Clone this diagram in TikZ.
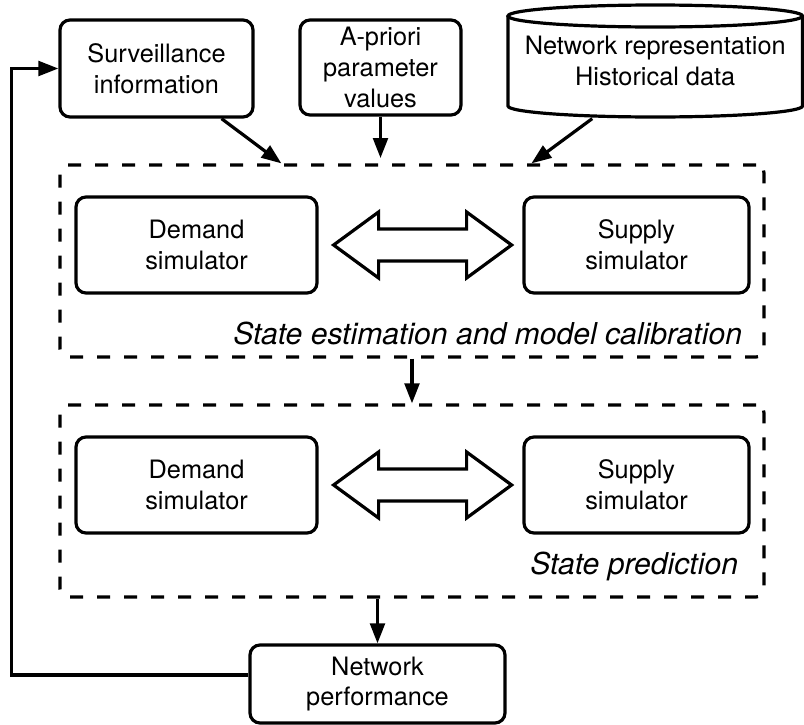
\documentclass[tikz,border=0pt]{standalone}
\usepackage{fontspec}
\setmainfont{TeX Gyre Heros}
\usetikzlibrary{arrows.meta,calc}

\begin{document}
\begin{tikzpicture}[x=0.75pt,y=-0.75pt,line width=2.4pt,
    box/.style={draw,rounded corners=7.5pt,align=center,inner sep=0pt,
      font=\fontsize{19}{23}\selectfont},
    region/.style={draw,rounded corners=6pt,dash pattern=on 9.75pt off 10.5pt,
      inner sep=0pt,minimum width=528pt,minimum height=144pt},
    lbl/.style={font=\fontsize{22.6}{26}\selectfont\itshape,inner sep=0pt},
    arr/.style={-{Triangle[length=15pt,width=11pt]}}]
  \useasboundingbox (0,0) rectangle (804,725);

  % inputs
  \node[box,minimum width=144.75pt,minimum height=72.75pt] (surv) at (156.5,68.5) {Surveillance\\information};
  \node[box,minimum width=120.75pt,minimum height=71.25pt] (apriori) at (380.5,67.5) {A-priori\\parameter\\values};
  \node[align=center,inner sep=0pt,minimum width=221.25pt,minimum height=84pt,
    font=\fontsize{19}{23}\selectfont] (db) at (655.25,61) {Network representation\\Historical data};
  \draw (508,16) -- (508,106) arc[start angle=180,end angle=0,x radius=147.25,y radius=11] -- (802.5,16);
  \draw (655.25,16) ellipse[x radius=147.25,y radius=11];

  % the two simulation stages
  \node[region] (est) at (412,261) {};
  \node[region] (pred) at (412,501) {};
  \foreach \reg/\yc in {est/245,pred/485} {
    \node[box,minimum width=180.75pt,minimum height=72pt] (dem-\reg) at (196.5,\yc) {Demand\\simulator};
    \node[box,minimum width=168.75pt,minimum height=72pt] (sup-\reg) at (636.5,\yc) {Supply\\simulator};
    \draw[line join=miter] ($(dem-\reg.east)+(15,0)$) -- ++(45,-33) -- ++(0,17) -- ++(88,0)
      -- ++(0,-17) -- ++(45,33) -- ++(-45,33) -- ++(0,-17) -- ++(-88,0) -- ++(0,17) -- cycle;
  }
  \node[lbl,anchor=base east] (estlbl) at ($(est.south east)+(-22,-14)$) {State estimation and model calibration};
  \node[lbl,anchor=base east] (predlbl) at ($(pred.south east)+(-26,-24)$) {State prediction};

  % output
  \node[box,minimum width=191.25pt,minimum height=58.5pt] (perf) at (377.5,684) {Network\\performance};

  % connectors
  \draw[arr] ($(surv.south)+(65,0)$) -- ($(est.north west)+(223,0)$);
  \draw[arr,shorten >=4pt] (apriori.south) -- (apriori.south |- est.north);
  \draw[arr] ($(db.south)+(-63,0)$) -- ($(est.north west)+(473,0)$);
  \draw[arr] (est.south) -- (pred.north);
  \draw[arr] (perf.north |- pred.south) -- (perf.north);
  \draw[arr] ($(perf.west)+(0,-9)$) -| ($(surv.west)+(-47,0)$) -- (surv.west);
\end{tikzpicture}
\end{document}
